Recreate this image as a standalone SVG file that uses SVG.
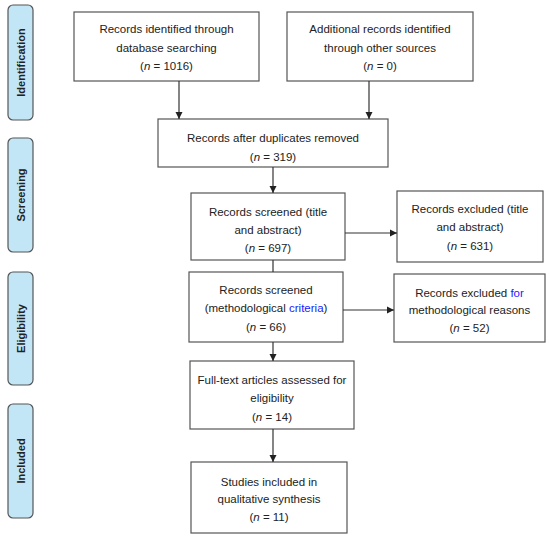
<svg xmlns="http://www.w3.org/2000/svg" width="550" height="539" viewBox="0 0 550 539">
<style>
.box{fill:#fff;stroke:#555;stroke-width:1.2}
.side{fill:#c3e6f7;stroke:#555;stroke-width:1.2}
.t{font-family:"Liberation Sans",Arial,sans-serif;font-size:11.5px;fill:#222;text-anchor:middle}
.s{font-family:"Liberation Sans",Arial,sans-serif;font-size:11px;font-weight:bold;fill:#222;text-anchor:middle}
.b{fill:#1a1aff}
.c{stroke:#333;stroke-width:1.2;fill:none}
</style>
<defs>
<marker id="ah" markerWidth="8" markerHeight="8" refX="7" refY="4" orient="auto" markerUnits="userSpaceOnUse">
<path d="M0,0.5 L7,4 L0,7.5 Z" fill="#222"/>
</marker>
</defs>
<g id="phase-identification"><rect class="side" x="8" y="5" width="25" height="115" rx="5"/><text class="s" transform="translate(24.5,62.5) rotate(-90)">Identification</text></g>
<g id="phase-screening"><rect class="side" x="8" y="138" width="25" height="114" rx="5"/><text class="s" transform="translate(24.5,195) rotate(-90)">Screening</text></g>
<g id="phase-eligibility"><rect class="side" x="8" y="272" width="25" height="113" rx="5"/><text class="s" transform="translate(24.5,328.5) rotate(-90)">Eligibility</text></g>
<g id="phase-included"><rect class="side" x="8" y="404" width="25" height="114" rx="5"/><text class="s" transform="translate(24.5,461) rotate(-90)">Included</text></g>

<g id="db"><rect class="box" x="74" y="12" width="185" height="69"/>
<text class="t" x="166.5" y="33">Records identified through</text>
<text class="t" x="166.5" y="52">database searching</text>
<text class="t" x="166.5" y="70">(<tspan font-style="italic">n</tspan> = 1016)</text></g>

<g id="other"><rect class="box" x="287" y="12" width="186" height="69"/>
<text class="t" x="380" y="33">Additional records identified</text>
<text class="t" x="380" y="52">through other sources</text>
<text class="t" x="380" y="70">(<tspan font-style="italic">n</tspan> = 0)</text></g>

<g id="dup"><rect class="box" x="158" y="119" width="230" height="48"/>
<text class="t" x="273" y="142">Records after duplicates removed</text>
<text class="t" x="273" y="161">(<tspan font-style="italic">n</tspan> = 319)</text></g>

<g id="screened"><rect class="box" x="191" y="193" width="154" height="67"/>
<text class="t" x="268" y="216">Records screened (title</text>
<text class="t" x="268" y="234">and abstract)</text>
<text class="t" x="268" y="252">(<tspan font-style="italic">n</tspan> = 697)</text></g>

<g id="excluded1"><rect class="box" x="397" y="191" width="146" height="71"/>
<text class="t" x="470" y="213">Records excluded (title</text>
<text class="t" x="470" y="231">and abstract)</text>
<text class="t" x="470" y="250">(<tspan font-style="italic">n</tspan> = 631)</text></g>

<g id="method"><rect class="box" x="189" y="272" width="154" height="70"/>
<text class="t" x="266" y="294">Records screened</text>
<text class="t" x="266" y="312">(methodological <tspan class="b">criteria</tspan>)</text>
<text class="t" x="266" y="331">(<tspan font-style="italic">n</tspan> = 66)</text></g>

<g id="excluded2"><rect class="box" x="394" y="274" width="151" height="68"/>
<text class="t" x="469.5" y="297">Records excluded <tspan class="b">for</tspan></text>
<text class="t" x="469.5" y="314">methodological reasons</text>
<text class="t" x="469.5" y="332">(<tspan font-style="italic">n</tspan> = 52)</text></g>

<g id="fulltext"><rect class="box" x="190" y="361" width="164" height="68"/>
<text class="t" x="272" y="384">Full-text articles assessed for</text>
<text class="t" x="272" y="402">eligibility</text>
<text class="t" x="272" y="421">(<tspan font-style="italic">n</tspan> = 14)</text></g>

<g id="included"><rect class="box" x="191" y="462" width="156" height="71"/>
<text class="t" x="269" y="486">Studies included in</text>
<text class="t" x="269" y="503">qualitative synthesis</text>
<text class="t" x="269" y="521">(<tspan font-style="italic">n</tspan> = 11)</text></g>

<g id="connectors">
<line class="c" x1="179" y1="81" x2="179" y2="119" marker-end="url(#ah)"/>
<line class="c" x1="369" y1="81" x2="369" y2="119" marker-end="url(#ah)"/>
<line class="c" x1="273" y1="167" x2="273" y2="193" marker-end="url(#ah)"/>
<line class="c" x1="345" y1="233" x2="397" y2="233" marker-end="url(#ah)"/>
<line class="c" x1="273" y1="260" x2="273" y2="272"/>
<line class="c" x1="343" y1="310" x2="394" y2="310" marker-end="url(#ah)"/>
<line class="c" x1="273" y1="342" x2="273" y2="361" marker-end="url(#ah)"/>
<line class="c" x1="273" y1="429" x2="273" y2="462" marker-end="url(#ah)"/>
</g>
</svg>
